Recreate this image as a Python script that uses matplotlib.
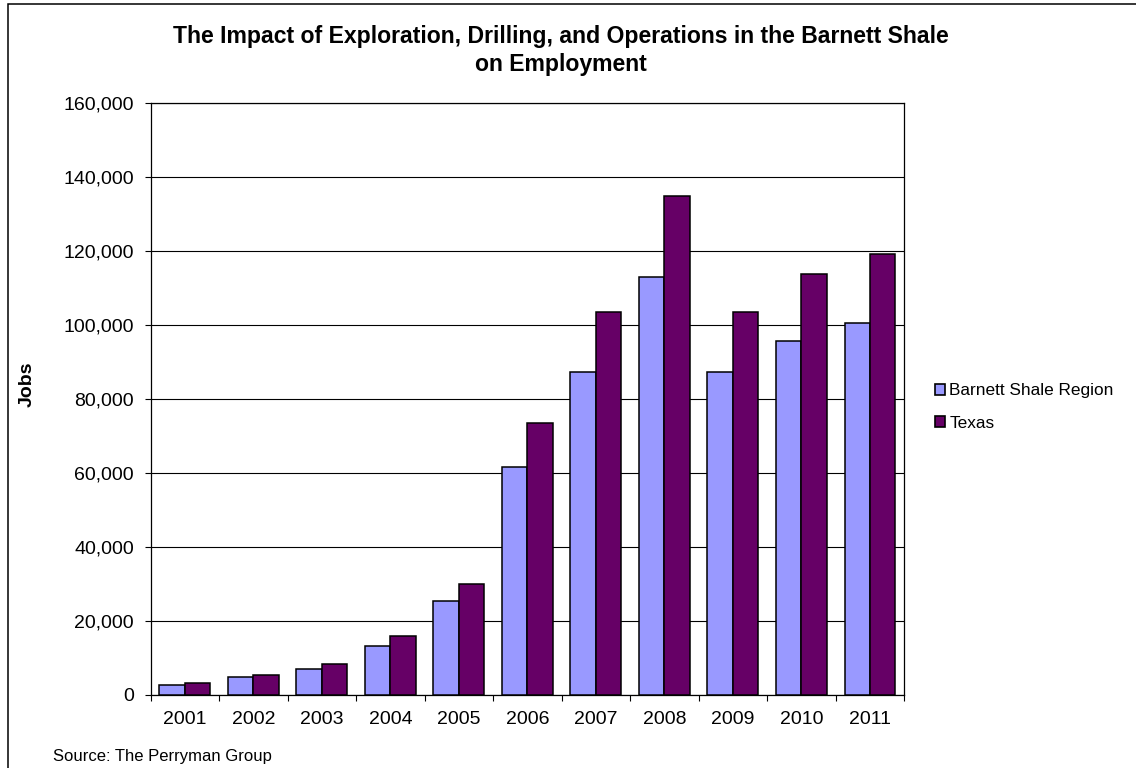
import numpy as np
import matplotlib
matplotlib.use("Agg")
import matplotlib.pyplot as plt
from matplotlib.ticker import FuncFormatter, FixedLocator
from matplotlib.patches import Rectangle

plt.rcParams['font.family'] = ['Liberation Sans', 'DejaVu Sans']

years = ['2001', '2002', '2003', '2004', '2005', '2006',
         '2007', '2008', '2009', '2010', '2011']
barnett = [2500, 4600, 7000, 13200, 25200, 61600,
           87100, 113000, 87300, 95700, 100400]
texas = [3050, 5300, 8300, 15800, 30000, 73300,
         103500, 134700, 103500, 113700, 119200]
series_names = ['Barnett Shale Region', 'Texas']

fig = plt.figure(figsize=(11.36, 7.68), dpi=100)
ax = fig.add_axes([0.1325, 0.0957, 0.796 - 0.1325, 0.8663 - 0.0957])

x = np.arange(len(years))
w = 0.372
ax.bar(x - w/2, barnett, w, color='#9999FF', edgecolor='black', linewidth=1.1,
       label=series_names[0], zorder=3)
ax.bar(x + w/2, texas, w, color='#660066', edgecolor='black', linewidth=1.1,
       label=series_names[1], zorder=3)

ax.set_xlim(-0.5, len(years) - 0.5)
ax.set_ylim(0, 160000)
ax.set_yticks(np.arange(0, 160001, 20000))
ax.yaxis.set_major_formatter(FuncFormatter(lambda v, p: '{:,.0f}'.format(v)))
ax.yaxis.grid(True, color='black', linewidth=0.8, zorder=0)

ax.set_xticks(x)
ax.set_xticklabels(years)
ax.xaxis.set_minor_locator(FixedLocator(np.arange(-0.5, len(years), 1)))
ax.tick_params(axis='x', which='major', length=0, pad=12, labelsize=14)
ax.tick_params(axis='x', which='minor', length=4.5, width=0.8, direction='out')
ax.tick_params(axis='y', length=4, width=0.8, direction='out', pad=8, labelsize=14)

for s in ax.spines.values():
    s.set_linewidth(0.9)
    s.set_color('black')

ax.set_ylabel('Jobs', fontsize=14, fontweight='bold', labelpad=12)
ax.yaxis.set_label_coords(36/1136, 0.5, transform=fig.transFigure)

fig.text(561/1136, 1 - 43.5/768, 'The Impact of Exploration, Drilling, and Operations in the Barnett Shale',
         ha='center', va='baseline', fontsize=16.6, fontweight='bold')
fig.text(561/1136, 1 - 71/768, 'on Employment',
         ha='center', va='baseline', fontsize=16.6, fontweight='bold')

fig.text(53/1136, 1 - 761/768, 'Source: The Perryman Group', ha='left', va='baseline', fontsize=12)

leg = ax.legend(loc='center left', bbox_to_anchor=(926/1136, 1 - 407/768),
                bbox_transform=fig.transFigure, frameon=False, fontsize=12.4,
                handlelength=0.6, handleheight=0.6, handletextpad=0.25,
                labelspacing=1.0, borderpad=0)
for p in leg.get_patches():
    p.set_linewidth(1.2)

fig.patches.append(Rectangle((8/1136, -0.1), 1.2, 1.1 - 4.5/768, transform=fig.transFigure,
                             fill=False, edgecolor='black', linewidth=1.1, clip_on=False))

fig.savefig('out.png', dpi=100)
